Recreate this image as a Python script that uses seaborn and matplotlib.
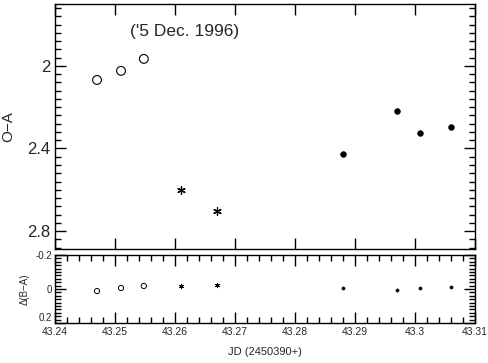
import matplotlib
matplotlib.use("Agg")
import matplotlib.pyplot as plt
from matplotlib.ticker import MultipleLocator, FixedLocator
import seaborn as sns
import pandas as pd

jd_open = [43.247, 43.251, 43.2548]
oa_open = [2.068, 2.024, 1.966]
dba_open = [0.012, -0.006, -0.018]

jd_star = [43.261, 43.267]
oa_star = [2.602, 2.704]
dba_star = [-0.018, -0.024]

jd_fill = [43.288, 43.297, 43.3008, 43.306]
oa_fill = [2.427, 2.218, 2.325, 2.296]
dba_fill = [-0.006, 0.006, -0.006, -0.012]

x_ticks = [43.24, 43.25, 43.26, 43.27, 43.28, 43.29, 43.30, 43.31]
x_labels = ['43.24', '43.25', '43.26', '43.27', '43.28', '43.29', '43.3', '43.31']

sns.set_theme(style='ticks')
plt.rcParams['font.family'] = ['Liberation Sans', 'DejaVu Sans']
plt.rcParams['axes.linewidth'] = 1.0

fig = plt.figure(figsize=(4.89, 3.63), dpi=100)
ax1 = fig.add_axes([0.1125, 0.314, 0.859, 0.675])
ax2 = fig.add_axes([0.1125, 0.110, 0.859, 0.1875])

open_df = pd.DataFrame({'jd': jd_open, 'oa': oa_open, 'dba': dba_open})
star_df = pd.DataFrame({'jd': jd_star, 'oa': oa_star, 'dba': dba_star})
fill_df = pd.DataFrame({'jd': jd_fill, 'oa': oa_fill, 'dba': dba_fill})

asterisk = (6, 2, 0)

# top panel
sns.scatterplot(data=open_df, x='jd', y='oa', ax=ax1, marker='o', s=40,
                facecolors='none', edgecolor='black', linewidth=0.8)
sns.scatterplot(data=star_df, x='jd', y='oa', ax=ax1, marker=asterisk, s=30,
                color='black', linewidth=0.9)
sns.scatterplot(data=fill_df, x='jd', y='oa', ax=ax1, marker='o', s=18,
                color='black', edgecolor='black')

# bottom panel
sns.scatterplot(data=open_df, x='jd', y='dba', ax=ax2, marker='o', s=14,
                facecolors='none', edgecolor='black', linewidth=0.7)
sns.scatterplot(data=star_df, x='jd', y='dba', ax=ax2, marker=asterisk, s=10,
                color='black', linewidth=0.7)
sns.scatterplot(data=fill_df, x='jd', y='dba', ax=ax2, marker='o', s=6,
                color='black', edgecolor='black')

for ax in (ax1, ax2):
    ax.set_xlim(43.24, 43.31)
    ax.xaxis.set_major_locator(FixedLocator(x_ticks))
    ax.tick_params(which='both', direction='in', top=True, right=True,
                   bottom=True, left=True, color='black', width=1.0)
    ax.tick_params(which='major', length=8)
    ax.tick_params(which='minor', length=4)
    ax.set_xlabel('')
    ax.set_ylabel('')
    for sp in ax.spines.values():
        sp.set_color('black')

ax1.set_ylim(2.887, 1.70)
ax1.yaxis.set_major_locator(FixedLocator([2.0, 2.4, 2.8]))
ax1.set_yticklabels(['2', '2.4', '2.8'], fontsize=12)
ax1.yaxis.set_minor_locator(MultipleLocator(0.04))
ax1.set_xticklabels([])
ax1.set_ylabel('O\u2212A', fontsize=11)
ax1.yaxis.set_label_coords(-0.095, 0.5)
ax1.text(0.179, 0.886, "('5 Dec. 1996)", transform=ax1.transAxes,
         fontsize=12.5, ha='left', va='center')

ax2.set_ylim(0.2, -0.2)
ax2.yaxis.set_major_locator(FixedLocator([-0.2, 0.0, 0.2]))
ax2.set_yticklabels(['-0.2', '0', '0.2'], fontsize=7)
ax2.get_yticklabels()[-1].set_va('bottom')
ax2.yaxis.set_minor_locator(MultipleLocator(0.02))
ax2.xaxis.set_minor_locator(MultipleLocator(0.002))
ax2.set_xticklabels(x_labels, fontsize=7.5)
ax2.tick_params(axis='x', pad=3)
ax2.tick_params(axis='y', pad=2)
ax2.set_ylabel('\u0394(B\u2212A)', fontsize=7)
ax2.yaxis.set_label_coords(-0.06, 0.5)
ax2.set_xlabel('JD (2450390+)', fontsize=8, labelpad=7)

fig.savefig('out.png', dpi=100)
